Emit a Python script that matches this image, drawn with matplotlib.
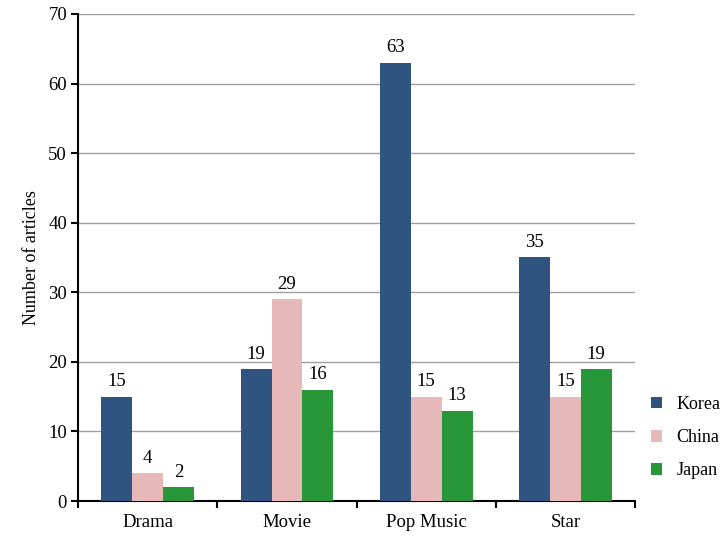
import numpy as np
import matplotlib.pyplot as plt

plt.rcParams['font.family'] = ['Liberation Serif', 'DejaVu Serif']

categories = ['Drama', 'Movie', 'Pop Music', 'Star']
series = ['Korea', 'China', 'Japan']
korea = [15, 19, 63, 35]
china = [4, 29, 15, 15]
japan = [2, 16, 13, 19]
colors = ['#2F5480', '#E6B8B7', '#27973A']

fig = plt.figure(figsize=(7.24, 5.37), dpi=100)
ax = fig.add_axes([0.108, 0.067, 0.769, 0.907])

x = np.arange(len(categories))
w = 0.222
for i, (name, vals) in enumerate(zip(series, [korea, china, japan])):
    bars = ax.bar(x + (i - 1) * w, vals, w, color=colors[i], label=name, zorder=3)
    for b, v in zip(bars, vals):
        ax.text(b.get_x() + b.get_width() / 2, v + 0.9, str(v),
                ha='center', va='bottom', fontsize=13.5)

ax.set_xlim(-0.5, len(categories) - 0.5)
ax.set_ylim(0, 70)
ax.set_yticks(range(0, 71, 10))
ax.set_xticks(x)
ax.set_xticklabels(categories, fontsize=13.5)
ax.set_xticks(np.arange(-0.5, len(categories), 1), minor=True)
ax.tick_params(axis='x', which='major', length=0, pad=9)
ax.tick_params(axis='x', which='minor', length=5, width=1.5)
ax.tick_params(axis='y', labelsize=13.5, length=5, width=1.5, pad=3)
ax.yaxis.grid(True, color='#a0a0a0', linewidth=1, zorder=0)
ax.spines['top'].set_visible(False)
ax.spines['right'].set_visible(False)
ax.spines['left'].set_linewidth(1.5)
ax.spines['bottom'].set_linewidth(1.5)
ax.set_ylabel('Number of articles', fontsize=13, labelpad=6)

ax.legend(loc='center left', bbox_to_anchor=(1.0, 0.13), frameon=False,
          fontsize=13, handlelength=0.6, handleheight=0.6, labelspacing=0.9,
          handletextpad=0.8)

fig.savefig('out.png', dpi=100)
